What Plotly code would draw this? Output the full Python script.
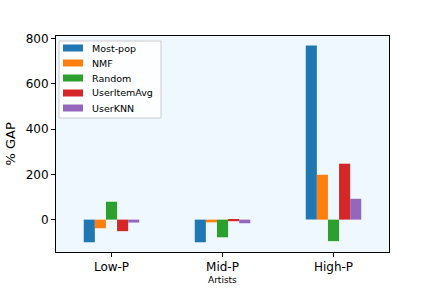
import plotly.graph_objects as go

categories = ["Low-P", "Mid-P", "High-P"]
series_names = ["Most-pop", "NMF", "Random", "UserItemAvg", "UserKNN"]
most_pop = [-100, -100, 769]
nmf = [-38, -12, 198]
random_vals = [79, -78, -95]
user_item_avg = [-51, -7, 247]
user_knn = [-13, -16, 92]
colors = ["#1f77b4", "#ff7f0e", "#2ca02c", "#d62728", "#9467bd"]

values = [most_pop, nmf, random_vals, user_item_avg, user_knn]

L, R, T, B = 56, 43, 36, 36
W, H = 432, 288
pw, ph = W - L - R, H - T - B

def px_x(px):
    return (px - L) / pw

def px_y(py):
    return (H - B - py) / ph

fig = go.Figure()
for name, vals, c in zip(series_names, values, colors):
    fig.add_trace(go.Bar(x=categories, y=vals, name=name, marker=dict(color=c, line=dict(width=0))))

font = "DejaVu Sans, sans-serif"

# manual legend (matplotlib style)
shapes = [dict(type="rect", xref="paper", yref="paper",
               x0=px_x(59), x1=px_x(161), y0=px_y(118), y1=px_y(41),
               line=dict(color="#cccccc", width=1), fillcolor="rgba(255,255,255,0.8)", layer="above")]
annotations = []
for i, (name, c) in enumerate(zip(series_names, colors)):
    cy = 48 + 15 * i
    shapes.append(dict(type="rect", xref="paper", yref="paper",
                       x0=px_x(63), x1=px_x(83), y0=px_y(cy + 3.5), y1=px_y(cy - 3.5),
                       line=dict(width=0), fillcolor=c, layer="above"))
    annotations.append(dict(xref="paper", yref="paper", x=px_x(90), y=px_y(cy),
                            xanchor="left", yanchor="middle", text=name, showarrow=False,
                            font=dict(size=9.5, family=font, color="black")))

annotations.append(dict(xref="paper", yref="paper", x=0.5, y=px_y(280),
                        xanchor="center", yanchor="middle", text="Artists", showarrow=False,
                        font=dict(size=9, family=font, color="black")))
annotations.append(dict(xref="paper", yref="paper", x=px_x(9.5), y=0.5, textangle=-90,
                        xanchor="center", yanchor="middle", text="% GAP", showarrow=False,
                        font=dict(size=13, family=font, color="black")))

fig.update_layout(
    width=W, height=H,
    margin=dict(l=L, r=R, t=T, b=B),
    barmode="group", bargap=0.5, bargroupgap=0,
    paper_bgcolor="white", plot_bgcolor="#F0F8FF",
    font=dict(family=font, color="black"),
    showlegend=False,
    shapes=shapes, annotations=annotations,
)
fig.update_xaxes(
    type="category", range=[-0.5, 2.5], automargin=False,
    showline=True, linecolor="black", linewidth=1, mirror=True,
    ticks="outside", ticklen=4, tickcolor="black", tickfont=dict(size=12),
    showgrid=False, zeroline=False,
)
fig.update_yaxes(
    range=[-143, 811], tickvals=[0, 200, 400, 600, 800], automargin=False,
    showline=True, linecolor="black", linewidth=1, mirror=True,
    ticks="outside", ticklen=4, tickcolor="black", tickfont=dict(size=12),
    showgrid=False, zeroline=False,
)

fig.write_html("out.html", config={"displayModeBar": False},
               post_script="document.body.style.margin='0';")
